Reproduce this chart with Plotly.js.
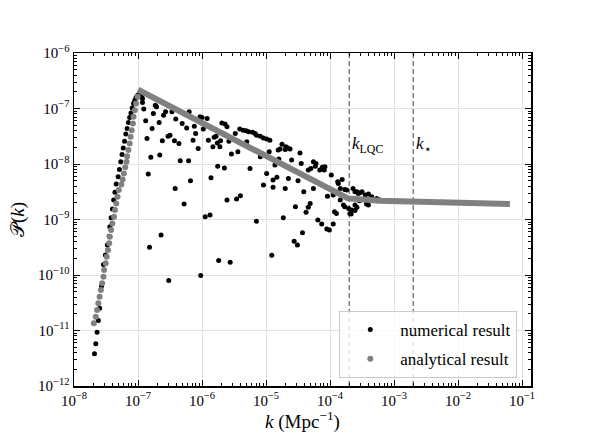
<!DOCTYPE html>
<html>
<head>
<meta charset="utf-8">
<script src="https://cdn.plot.ly/plotly-3.0.1.min.js"></script>
<style>
  html, body { margin: 0; padding: 0; background: #fff; }
  #PkChart { width: 590px; height: 443px; }
</style>
</head>
<body>
<div id="PkChart"></div>
<script>
// values, stored as log10
var numLogK = [
  -7.68, -7.66, -7.64, -7.62, -7.60, -7.57, -7.54, -7.51, -7.48, -7.45, -7.44, -7.42,
  -7.40, -7.38, -7.36, -7.34, -7.31, -7.29, -7.27, -7.25, -7.23, -7.21, -7.19, -7.17,
  -7.15, -7.13, -7.11, -7.09, -7.07, -7.05, -7.03, -7.005, -6.98, -6.95, -6.93,
  -6.93, -6.91, -6.88, -6.86, -6.84, -6.80, -6.78, -6.76, -6.73, -6.71, -6.67, -6.66,
  -6.62, -6.60, -6.57, -6.53, -6.50, -6.47, -6.43, -6.41, -6.36, -6.34, -6.31, -6.42,
  -6.24, -6.21, -6.20, -6.18, -6.14, -6.12, -6.10, -6.06, -6.03, -6.00, -5.98, -5.92,
  -5.90, -5.86, -5.83, -5.81, -5.78, -5.76, -5.755, -5.72, -5.71, -5.69, -5.65, -5.64,
  -5.61, -5.58, -5.54, -5.48, -5.44, -5.41, -5.355,
  -6.28, -5.61, -5.46, -5.40, -5.95, -5.875, -6.64, -6.82, -5.74, -5.56, -6.52, -6.02,
  -5.31, -5.30, -5.27, -5.21, -5.17, -5.15, -5.09, -5.04, -4.99, -4.94, -4.95, -5.09,
  -5.25, -4.99, -4.83, -4.89, -4.81, -4.78, -4.75, -4.69, -4.66, -4.70, -4.625, -4.80,
  -4.86, -4.60, -4.65, -4.47, -4.50, -4.45, -4.34, -4.30, -4.26, -4.22, -4.23, -4.16,
  -4.12, -4.08, -4.09, -3.98, -3.88, -3.81, -3.84, -3.77, -3.64, -5.04, -4.89, -4.26,
  -4.70,
  -4.41, -4.54, -4.31, -4.34, -4.375, -4.04, -3.95, -3.84, -3.79, -3.77, -3.71, -3.93,
  -3.90, -3.66, -3.61, -3.67, -3.58, -5.15, -4.73, -4.19, -4.13, -4.05, -4.01, -3.95,
  -4.43, -4.56, -4.51, -4.91,
  -3.87, -3.74, -3.61, -3.56, -3.50, -3.45, -3.40, -3.35, -3.27, -3.22, -3.43, -3.40,
  -3.54, -3.61, -3.69, -3.58, -3.53
];
var numLogP = [
  -11.42, -11.24, -11.03, -10.82, -10.60, -10.20, -9.81, -9.64, -9.46, -9.30, -9.13, -8.97,
  -8.81, -8.65, -8.51, -8.36, -8.23, -8.10, -7.96, -7.83, -7.71, -7.59, -7.46, -7.36,
  -7.25, -7.16, -7.08, -6.99, -6.91, -6.85, -6.80, -6.76, -6.74, -6.78, -6.82,
  -6.89, -7.01, -7.22, -7.54, -8.18, -7.88, -7.36, -7.09, -6.94, -6.97, -7.25, -7.84,
  -7.58, -7.12, -7.06, -7.50, -7.48, -7.06, -7.58, -7.19, -7.63, -7.94, -7.27, -8.44,
  -7.35, -7.94, -7.06, -8.30, -7.57, -7.32, -7.45, -7.72, -7.15, -7.16, -7.37, -7.18,
  -7.57, -8.25, -7.69, -7.52, -7.50, -7.62, -8.04, -7.69, -7.58, -7.26, -8.07, -7.28,
  -7.33, -7.59, -7.82, -7.45, -7.78, -7.37, -7.39,
  -8.72, -8.65, -8.63, -8.57, -8.95, -8.92, -9.28, -9.50, -9.74, -9.77, -10.10, -10.01,
  -7.40, -7.60, -7.42, -7.43, -7.45, -7.48, -7.50, -7.53, -7.55, -7.57, -7.78, -7.87,
  -8.08, -8.17, -8.24, -8.29, -7.75, -7.73, -7.645, -7.69, -7.71, -7.74, -7.73, -7.91,
  -8.02, -7.93, -8.26, -7.80, -8.30, -7.99, -8.11, -8.08, -7.96, -7.99, -8.04, -8.11,
  -8.06, -8.05, -8.11, -8.20, -8.32, -8.28, -8.44, -8.46, -8.44, -8.38, -8.42, -8.44,
  -8.44,
  -8.50, -8.77, -8.71, -8.78, -8.87, -8.58, -8.56, -8.65, -8.74, -8.77, -8.80, -8.86,
  -8.89, -8.83, -8.84, -8.90, -8.78, -9.03, -8.97, -9.01, -9.08, -9.17, -9.19, -9.08,
  -9.24, -9.39, -9.46, -9.645,
  -8.35, -8.47, -8.50, -8.53, -8.50, -8.56, -8.54, -8.59, -8.62, -8.65, -8.72, -8.74,
  -8.66, -8.74, -8.89, -8.50, -8.52
];

// analytical result: rising branch (dots) and the broken power law (thick line)
var anaLogK = [
  -7.69, -7.66, -7.64, -7.62, -7.60, -7.58, -7.56, -7.54, -7.53, -7.505, -7.49, -7.47,
  -7.45, -7.44, -7.42, -7.40, -7.375, -7.36, -7.34, -7.32, -7.30, -7.26, -7.24, -7.22,
  -7.20, -7.18, -7.17, -7.15, -7.13, -7.115, -7.10, -7.08, -7.07, -7.05, -7.03, -7.005
];
var anaLogP = [
  -10.87, -10.75, -10.63, -10.51, -10.39, -10.27, -10.15, -10.03, -9.91, -9.79, -9.67, -9.55,
  -9.43, -9.31, -9.19, -9.07, -8.95, -8.83, -8.71, -8.59, -8.47, -8.37, -8.28, -8.17,
  -8.06, -7.96, -7.86, -7.75, -7.63, -7.51, -7.39, -7.27, -7.15, -7.03, -6.91, -6.79
];
var lineLogK = [-7.0, -3.72, -3.22, -1.19];
var lineLogP = [-6.66, -8.62, -8.66, -8.72];

// axis decades
var xDecades = [-8, -7, -6, -5, -4, -3, -2, -1];
var yDecades = [-12, -11, -10, -9, -8, -7, -6];

var kLQC = 2e-4;
var kStar = 2e-3;
var yLo = 1e-12, yHi = 1e-6;

function pow10(a) { return a.map(function (v) { return Math.pow(10, v); }); }
function powLabels(a) { return a.map(function (e) { return '10<sup>' + (e < 0 ? '−' + (-e) : e) + '</sup>'; }); }

// minor tick spots 2..9 inside each decade
function minorVals(e0, e1) {
  var out = [];
  for (var e = e0; e < e1; e++) {
    for (var m = 2; m <= 9; m++) out.push(m * Math.pow(10, e));
  }
  return out;
}

var serif = 'Liberation Serif, Times New Roman, serif';
var grey = '#808080';

var vLQC = {
  x: [kLQC, kLQC], y: [yLo, yHi], mode: 'lines', showlegend: false, hoverinfo: 'skip',
  line: { color: grey, width: 1.5, dash: '5px,3px' }
};
var vStar = {
  x: [kStar, kStar], y: [yLo, yHi], mode: 'lines', showlegend: false, hoverinfo: 'skip',
  line: { color: grey, width: 1.5, dash: '5px,3px' }
};

var numerical = {
  name: 'numerical result',
  legendgroup: 'num',
  x: pow10(numLogK), y: pow10(numLogP),
  mode: 'markers',
  marker: { color: '#000000', size: 5 }
};

var analytical = {
  name: 'analytical result',
  legendgroup: 'ana',
  x: pow10(anaLogK), y: pow10(anaLogP),
  mode: 'markers',
  marker: { color: grey, size: 6 }
};

var analyticalLine = {
  x: pow10(lineLogK), y: pow10(lineLogP),
  mode: 'lines', showlegend: false, legendgroup: 'ana',
  line: { color: grey, width: 6 }
};

var data = [vLQC, vStar, numerical, analyticalLine, analytical];

function axisBase(decades) {
  return {
    type: 'log',
    tickmode: 'array',
    tickvals: pow10(decades),
    ticktext: powLabels(decades),
    showgrid: true,
    gridcolor: '#e2e2e2',
    gridwidth: 1,
    zeroline: false,
    showline: true,
    linecolor: '#000',
    linewidth: 1.5,
    mirror: 'allticks',
    ticks: 'inside',
    ticklen: 6,
    tickwidth: 1,
    tickcolor: '#000',
    minor: {
      tickmode: 'array', tickvals: minorVals(decades[0], decades[decades.length - 1] + 1),
      ticks: 'inside', ticklen: 3, tickwidth: 1, tickcolor: '#000', showgrid: false
    },
    tickfont: { family: serif, size: 15, color: '#000' }
  };
}

var layout = {
  width: 590,
  height: 443,
  margin: { l: 74, r: 59, t: 53, b: 57 },
  paper_bgcolor: '#fff',
  plot_bgcolor: '#fff',
  showlegend: true,
  xaxis: Object.assign(axisBase(xDecades), {
    range: [-8, -0.86],
    title: { text: '<i>k</i> (Mpc<sup>−1</sup>)', font: { family: serif, size: 19, color: '#000' }, standoff: 4 }
  }),
  yaxis: Object.assign(axisBase(yDecades), {
    range: [-12, -6],
    title: { text: '𝒫(<i>k</i>)', font: { family: serif, size: 19, color: '#000' }, standoff: 8 }
  }),
  legend: {
    x: 0.97, y: 0.024, xanchor: 'right', yanchor: 'bottom',
    bgcolor: 'rgba(255,255,255,0.8)',
    bordercolor: '#cccccc', borderwidth: 1,
    font: { family: serif, size: 17, color: '#000' },
    itemwidth: 50,
    traceorder: 'grouped',
    tracegroupgap: 4
  },
  annotations: [
    { x: Math.log10(kLQC), y: -7.66, xref: 'x', yref: 'y', xanchor: 'left', xshift: 1,
      showarrow: false, text: '<i>k</i><sub>LQC</sub>', font: { family: serif, size: 17, color: '#000' } },
    { x: Math.log10(kStar), y: -7.66, xref: 'x', yref: 'y', xanchor: 'left', xshift: 1,
      showarrow: false, text: '<i>k</i><sub>⋆</sub>', font: { family: serif, size: 17, color: '#000' } }
  ]
};

Plotly.newPlot('PkChart', data, layout, { displayModeBar: false, staticPlot: true });
</script>
</body>
</html>
